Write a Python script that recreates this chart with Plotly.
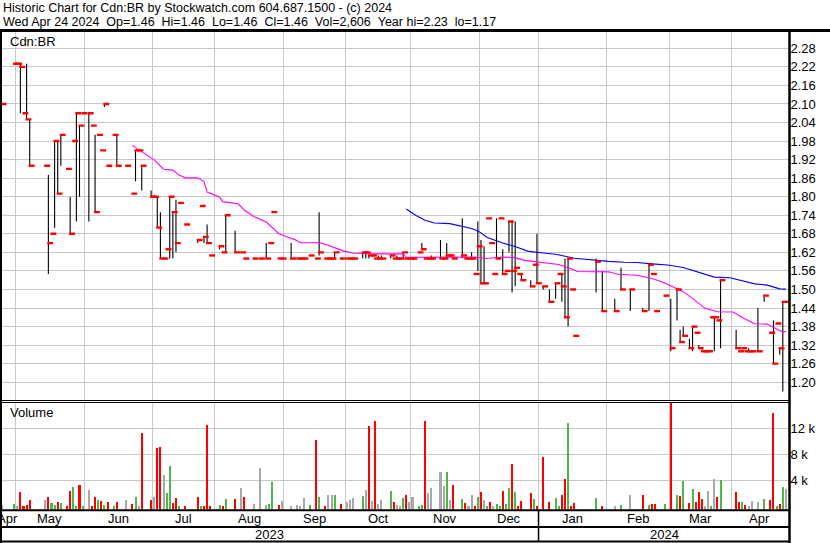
import plotly.graph_objects as go
import pandas as pd

W, H = 830, 543

# ---------------- trading calendar ----------------
HOLIDAYS = ["2023-05-22", "2023-07-03", "2023-08-07", "2023-09-04", "2023-10-09",
            "2023-12-25", "2023-12-26", "2024-01-01", "2024-02-19", "2024-03-29"]
trading_days = [d for d in pd.bdate_range("2023-04-24", "2024-04-24")
                if d.strftime("%Y-%m-%d") not in HOLIDAYS]
MONTH_ABBR = ["Jan", "Feb", "Mar", "Apr", "May", "Jun", "Jul", "Aug", "Sep", "Oct", "Nov", "Dec"]

# ---------------- daily data (session = trading-day number) ----------------
session = [0, 4, 5, 6, 7, 8, 9, 14, 15, 16,
           17, 18, 19, 21, 22, 23, 24, 25, 26, 28,
           29, 30, 31, 32, 33, 34, 36, 37, 40, 42,
           43, 44, 45, 48, 49, 50, 51, 52, 53, 54,
           55, 56, 57, 59, 63, 64, 65, 66, 67, 70,
           71, 72, 75, 77, 78, 81, 83, 85, 86, 87,
           89, 90, 93, 95, 96, 97, 99, 101, 102, 104,
           105, 106, 107, 109, 111, 112, 113, 116, 117, 118,
           119, 120, 121, 122, 125, 126, 127, 128, 129, 130,
           131, 132, 134, 135, 136, 137, 138, 141, 142, 143,
           144, 145, 148, 149, 150, 151, 152, 153, 154, 155,
           156, 157, 158, 159, 160, 161, 162, 163, 164, 165,
           166, 167, 170, 171, 172, 174, 176, 178, 179, 180,
           181, 182, 183, 184, 191, 193, 197, 199, 202, 206,
           208, 209, 210, 213, 215, 217, 218, 219, 221, 222,
           223, 224, 225, 226, 227, 228, 229, 230, 231, 236,
           237, 238, 239, 240, 241, 243, 245, 247, 248, 249,
           250, 251, 252]

high = [2.10, 2.23, 2.23, 2.23, 2.07, 2.23, 2.05, 1.90, 1.87, 1.68,
        1.98, 1.98, 2.00, 1.89, 1.80, 1.98, 2.07, 2.03, 2.07, 2.07,
        2.03, 2.00, 2.00, 1.95, 2.10, 1.90, 2.00, 2.00, 1.90, 1.81,
        1.95, 1.95, 1.90, 1.82, 1.80, 1.80, 1.75, 1.60, 1.63, 1.80,
        1.75, 1.79, 1.78, 1.71, 1.66, 1.77, 1.67, 1.71, 1.61, 1.64,
        1.62, 1.74, 1.69, 1.62, 1.60, 1.60, 1.60, 1.65, 1.65, 1.75,
        1.60, 1.60, 1.65, 1.60, 1.60, 1.60, 1.61, 1.60, 1.75, 1.60,
        1.60, 1.60, 1.62, 1.60, 1.60, 1.60, 1.60, 1.62, 1.62, 1.61,
        1.61, 1.60, 1.61, 1.61, 1.61, 1.60, 1.61, 1.60, 1.62, 1.60,
        1.60, 1.60, 1.62, 1.65, 1.60, 1.60, 1.61, 1.66, 1.60, 1.65,
        1.61, 1.60, 1.73, 1.60, 1.60, 1.62, 1.55, 1.72, 1.66, 1.64,
        1.73, 1.65, 1.55, 1.73, 1.73, 1.63, 1.56, 1.72, 1.72, 1.72,
        1.55, 1.55, 1.53, 1.58, 1.68, 1.51, 1.50, 1.52, 1.55, 1.55,
        1.60, 1.60, 1.50, 1.35, 1.60, 1.56, 1.47, 1.57, 1.50, 1.44,
        1.58, 1.55, 1.43, 1.48, 1.47, 1.50, 1.37, 1.38, 1.34, 1.38,
        1.36, 1.32, 1.30, 1.30, 1.30, 1.41, 1.41, 1.40, 1.53, 1.37,
        1.30, 1.31, 1.30, 1.31, 1.30, 1.44, 1.48, 1.36, 1.40, 1.39,
        1.31, 1.46, 1.46]

low = [2.10, 2.23, 2.23, 2.07, 2.07, 2.05, 1.90, 1.90, 1.55, 1.68,
       1.70, 1.81, 1.90, 1.89, 1.68, 1.98, 1.72, 1.80, 2.07, 1.72,
       2.03, 1.75, 2.00, 1.95, 2.09, 1.90, 2.00, 1.90, 1.90, 1.81,
       1.85, 1.95, 1.82, 1.80, 1.80, 1.70, 1.60, 1.60, 1.63, 1.60,
       1.60, 1.62, 1.78, 1.71, 1.65, 1.77, 1.65, 1.65, 1.61, 1.63,
       1.62, 1.62, 1.62, 1.62, 1.60, 1.60, 1.60, 1.60, 1.65, 1.75,
       1.60, 1.60, 1.60, 1.60, 1.60, 1.60, 1.61, 1.60, 1.61, 1.60,
       1.60, 1.60, 1.60, 1.60, 1.60, 1.60, 1.60, 1.60, 1.60, 1.60,
       1.61, 1.60, 1.60, 1.60, 1.60, 1.60, 1.60, 1.60, 1.60, 1.60,
       1.60, 1.60, 1.62, 1.63, 1.60, 1.60, 1.60, 1.60, 1.60, 1.60,
       1.61, 1.60, 1.60, 1.60, 1.60, 1.60, 1.55, 1.56, 1.52, 1.52,
       1.73, 1.65, 1.55, 1.60, 1.73, 1.55, 1.56, 1.62, 1.49, 1.51,
       1.55, 1.53, 1.51, 1.58, 1.52, 1.50, 1.46, 1.47, 1.55, 1.46,
       1.41, 1.38, 1.50, 1.35, 1.49, 1.43, 1.43, 1.50, 1.43, 1.43,
       1.43, 1.55, 1.43, 1.48, 1.30, 1.40, 1.33, 1.35, 1.31, 1.30,
       1.36, 1.31, 1.30, 1.30, 1.30, 1.41, 1.30, 1.40, 1.31, 1.31,
       1.30, 1.31, 1.30, 1.30, 1.30, 1.30, 1.46, 1.36, 1.26, 1.39,
       1.29, 1.17, 1.46]

close = [2.10, 2.23, 2.23, 2.22, 2.07, 2.05, 1.90, 1.90, 1.65, 1.68,
         1.98, 1.81, 2.00, 1.89, 1.68, 1.98, 2.07, 2.03, 2.07, 2.07,
         2.03, 1.75, 2.00, 1.95, 2.10, 1.90, 2.00, 1.90, 1.90, 1.81,
         1.95, 1.95, 1.90, 1.80, 1.80, 1.70, 1.60, 1.60, 1.63, 1.80,
         1.75, 1.65, 1.78, 1.71, 1.66, 1.77, 1.67, 1.65, 1.61, 1.64,
         1.62, 1.74, 1.62, 1.62, 1.60, 1.60, 1.60, 1.60, 1.65, 1.75,
         1.60, 1.60, 1.60, 1.60, 1.60, 1.60, 1.61, 1.60, 1.62, 1.60,
         1.60, 1.60, 1.62, 1.60, 1.60, 1.60, 1.60, 1.62, 1.62, 1.61,
         1.61, 1.60, 1.60, 1.60, 1.61, 1.60, 1.60, 1.60, 1.62, 1.60,
         1.60, 1.60, 1.62, 1.63, 1.60, 1.60, 1.60, 1.60, 1.60, 1.61,
         1.61, 1.60, 1.61, 1.60, 1.60, 1.60, 1.55, 1.64, 1.52, 1.52,
         1.73, 1.65, 1.55, 1.60, 1.73, 1.55, 1.56, 1.72, 1.56, 1.57,
         1.55, 1.53, 1.51, 1.58, 1.52, 1.51, 1.46, 1.52, 1.55, 1.51,
         1.41, 1.60, 1.50, 1.35, 1.59, 1.43, 1.43, 1.50, 1.50, 1.43,
         1.58, 1.55, 1.43, 1.48, 1.31, 1.50, 1.33, 1.35, 1.31, 1.38,
         1.36, 1.31, 1.30, 1.30, 1.30, 1.41, 1.41, 1.40, 1.53, 1.31,
         1.30, 1.31, 1.30, 1.30, 1.30, 1.30, 1.48, 1.36, 1.26, 1.39,
         1.31, 1.46, 1.46]

volume = [200, 350, 100, 2200, 100, 200, 970, 970, 1400, 500,
          200, 660, 500, 50, 2360, 2970, 100, 3280, 100, 2500,
          50, 1400, 970, 800, 200, 660, 50, 660, 970, 350,
          1400, 50, 11300, 970, 1400, 8970, 9100, 4800, 2050, 6200,
          500, 1250, 50, 50, 1400, 100, 100, 12500, 100, 200,
          100, 1100, 1100, 2800, 1400, 350, 5900, 200, 350, 3700,
          200, 800, 100, 200, 100, 1250, 200, 10200, 1400, 100,
          1700, 1700, 1700, 350, 660, 970, 1250, 1600, 2500, 12400,
          800, 13100, 350, 970, 2360, 660, 200, 50, 1250, 1800,
          660, 1400, 100, 200, 13100, 2050, 2800, 5300, 3100, 5300,
          970, 3300, 1100, 500, 100, 1800, 100, 1400, 2200, 970,
          100, 660, 100, 350, 100, 2360, 350, 2800, 6500, 2200,
          100, 800, 2050, 1100, 100, 7600, 660, 1250, 100, 1700,
          4200, 12800, 50, 500, 1250, 100, 100, 200, 1700, 1800,
          200, 350, 350, 350, 17000, 1800, 1600, 3900, 500, 2650,
          660, 2200, 1100, 50, 2360, 100, 4200, 1400, 4100, 2200,
          660, 660, 200, 100, 800, 660, 1100, 970, 14400, 100,
          350, 3000, 2606]

# volume bar colour as seen: u = up (green), d = down (red), n = unchanged (grey)
vol_dir = ["n", "u", "n", "d", "d", "d", "d", "n", "d", "u",
           "u", "d", "u", "d", "d", "u", "u", "d", "u", "n",
           "d", "d", "u", "d", "u", "d", "u", "d", "n", "d",
           "u", "n", "d", "d", "n", "d", "d", "n", "u", "u",
           "d", "d", "u", "d", "d", "u", "d", "d", "d", "u",
           "d", "u", "d", "n", "d", "n", "n", "n", "u", "u",
           "d", "n", "n", "n", "n", "n", "u", "d", "u", "d",
           "n", "n", "u", "d", "n", "n", "n", "u", "n", "d",
           "n", "d", "n", "n", "u", "d", "n", "n", "u", "d",
           "n", "n", "u", "u", "d", "n", "n", "n", "n", "u",
           "n", "d", "u", "d", "n", "n", "d", "u", "d", "n",
           "u", "d", "n", "u", "u", "d", "u", "u", "d", "u",
           "d", "d", "d", "u", "d", "d", "d", "u", "u", "d",
           "d", "u", "d", "d", "u", "d", "n", "u", "n", "d",
           "u", "d", "d", "u", "d", "u", "d", "u", "d", "u",
           "d", "d", "d", "n", "n", "u", "n", "d", "u", "d",
           "d", "u", "d", "n", "n", "n", "u", "d", "d", "u",
           "d", "u", "n"]

# moving averages (session, value)
ma_fast_session = [42, 46, 49, 52, 55, 57, 59, 63, 65, 66,
                   70, 71, 76, 78, 81, 85, 87, 89, 92, 94,
                   96, 102, 104, 107, 110, 113, 119, 129, 130, 152,
                   156, 161, 165, 168, 174, 179, 183, 185, 195, 198,
                   204, 208, 212, 215, 219, 222, 226, 230, 235, 239,
                   242, 246, 249, 251, 252]
ma_fast = [1.966, 1.940, 1.919, 1.889, 1.886, 1.870, 1.861, 1.861, 1.849, 1.815,
           1.799, 1.784, 1.777, 1.756, 1.736, 1.718, 1.699, 1.681, 1.669, 1.662,
           1.651, 1.651, 1.646, 1.635, 1.624, 1.618, 1.615, 1.615, 1.604, 1.605,
           1.600, 1.605, 1.603, 1.594, 1.588, 1.581, 1.567, 1.558, 1.557, 1.549,
           1.546, 1.538, 1.526, 1.511, 1.493, 1.471, 1.439, 1.428, 1.427, 1.404,
           1.389, 1.388, 1.373, 1.362, 1.365]

ma_slow_session = [130, 133, 136, 139, 144, 148, 151, 153, 154, 156,
                   161, 165, 169, 174, 178, 184, 191, 195, 200, 204,
                   210, 214, 219, 222, 225, 229, 234, 238, 242, 246,
                   250, 252]
ma_slow = [1.760, 1.740, 1.724, 1.715, 1.713, 1.704, 1.697, 1.689, 1.683, 1.668,
           1.650, 1.639, 1.624, 1.618, 1.614, 1.601, 1.594, 1.591, 1.588, 1.587,
           1.582, 1.579, 1.571, 1.561, 1.551, 1.540, 1.538, 1.529, 1.518, 1.514,
           1.502, 1.501]

PRICE_LABELS = ["1.20", "1.26", "1.32", "1.38", "1.44", "1.50", "1.56", "1.62", "1.68", "1.74",
                "1.80", "1.86", "1.92", "1.98", "2.04", "2.10", "2.16", "2.22", "2.28"]
VOL_TICKS = [4000, 8000, 12000]
VOL_LABELS = ["4 k", "8 k", "12 k"]

SYMBOL = "Cdn:BR"
LAST_OPEN = 1.46

# ---------------- style ----------------
FONT = "Liberation Sans, Arial, sans-serif"
RED, GREEN, GREY = "#ff0000", "#4cb848", "#a8a8a8"
GRID = "#c8c8c8"
DIR_COLOR = {"u": GREEN, "d": RED, "n": GREY}
X_RANGE = [-0.547, 253.15]
PRICE_RANGE = [1.1425, 2.3327]
VOL_BASE = -492
VOL_RANGE = [VOL_BASE, 16046]
TICK_SHIFT = 0.6
PLOT_RIGHT = 789.5 / W


def px(x):
    return x / W


def py(y):
    return 1 - y / H


dates = [trading_days[s].strftime("%Y-%m-%d") for s in session]

# month structure
months = []
for idx, d in enumerate(trading_days):
    key = (d.year, d.month)
    if not months or months[-1][0] != key:
        months.append([key, idx, idx])
    else:
        months[-1][2] = idx
boundaries = [m[1] - 0.5 for m in months[1:]]
jan_boundary = [m[1] - 0.5 for m in months if m[0] == (2024, 1)][0]

fig = go.Figure()

# high-low bars
hx, hy = [], []
for s, h, l in zip(session, high, low):
    if h > l:
        hx += [s, s, None]
        hy += [l, h, None]
fig.add_trace(go.Scatter(x=hx, y=hy, mode="lines", line=dict(color="black", width=1.1),
                         hoverinfo="skip", xaxis="x", yaxis="y"))

# moving averages
fig.add_trace(go.Scatter(x=ma_fast_session, y=ma_fast, mode="lines",
                         line=dict(color="#ff00ff", width=1.1), xaxis="x", yaxis="y"))
fig.add_trace(go.Scatter(x=ma_slow_session, y=ma_slow, mode="lines",
                         line=dict(color="#0000ff", width=1.1), xaxis="x", yaxis="y"))

# close ticks
fig.add_trace(go.Scatter(x=[s + TICK_SHIFT for s in session], y=close, mode="markers",
                         marker=dict(symbol="line-ew", size=4.2,
                                     line=dict(color=RED, width=2.4)),
                         text=dates, hovertemplate="%{text}<br>Close %{y:.2f}<extra></extra>",
                         xaxis="x", yaxis="y"))

# volume
fig.add_trace(go.Bar(x=session, y=[v - VOL_BASE for v in volume], base=VOL_BASE,
                     width=0.65, marker=dict(color=[DIR_COLOR[d] for d in vol_dir], line=dict(width=0)),
                     customdata=volume, text=dates, textposition="none",
                     hovertemplate="%{text}<br>Vol %{customdata}<extra></extra>",
                     xaxis="x2", yaxis="y2"))

axis_common = dict(showline=False, zeroline=False, showgrid=True, gridcolor=GRID, gridwidth=1)

fig.update_layout(
    width=W, height=H, autosize=False,
    margin=dict(l=0, r=0, t=0, b=0),
    paper_bgcolor="white", plot_bgcolor="white",
    showlegend=False, bargap=0,
    font=dict(family=FONT, size=13, color="black"),
    xaxis=dict(domain=[0, PLOT_RIGHT], range=X_RANGE, anchor="y",
               tickvals=boundaries, showticklabels=False, ticks="", **axis_common),
    xaxis2=dict(domain=[0, PLOT_RIGHT], range=X_RANGE, anchor="y2",
                tickvals=boundaries, showticklabels=False, ticks="", **axis_common),
    yaxis=dict(domain=[py(400), py(32)], range=PRICE_RANGE, anchor="x", side="right",
               tickvals=[float(t) for t in PRICE_LABELS], ticktext=PRICE_LABELS,
               ticks="", tickfont=dict(size=13, family=FONT, color="black"), **axis_common),
    yaxis2=dict(domain=[py(509.5), py(402)], range=VOL_RANGE, anchor="x2", side="right",
                tickvals=VOL_TICKS, ticktext=VOL_LABELS,
                ticks="", tickfont=dict(size=13, family=FONT, color="black"), **axis_common),
)

NB = "\u00a0\u00a0"
header1 = f"Historic Chart for {SYMBOL} by Stockwatch.com 604.687.1500 - (c) 2024"
header2 = (f"Wed Apr 24 2024{NB}Op={LAST_OPEN:.2f}{NB}Hi={high[-1]:.2f}{NB}Lo={low[-1]:.2f}"
           f"{NB}Cl={close[-1]:.2f}{NB}Vol={volume[-1]:,}{NB}Year hi={max(high):.2f}{NB}lo={min(low):.2f}")

annotations = [
    dict(text=header1, x=px(1), y=py(8), xref="paper", yref="paper", xanchor="left", yanchor="middle",
         showarrow=False, font=dict(size=12.5, family=FONT)),
    dict(text=header2, x=px(1), y=py(22), xref="paper", yref="paper", xanchor="left", yanchor="middle",
         showarrow=False, font=dict(size=12.5, family=FONT)),
    dict(text=SYMBOL, x=px(8), y=py(41.5), xref="paper", yref="paper", xanchor="left", yanchor="middle",
         showarrow=False, font=dict(size=13, family=FONT)),
    dict(text="Volume", x=px(8), y=py(413), xref="paper", yref="paper", xanchor="left", yanchor="middle",
         showarrow=False, font=dict(size=13, family=FONT)),
]
for key, first, last in months:
    annotations.append(dict(text=MONTH_ABBR[key[1] - 1], x=(first + last) / 2, y=py(518.5),
                            xref="x2", yref="paper", xanchor="center", yanchor="middle",
                            showarrow=False, font=dict(size=13, family=FONT)))
annotations.append(dict(text="2023", x=(X_RANGE[0] + jan_boundary) / 2, y=py(534.5), xref="x2", yref="paper",
                        xanchor="center", yanchor="middle", showarrow=False, font=dict(size=13, family=FONT)))
annotations.append(dict(text="2024", x=(jan_boundary + X_RANGE[1]) / 2, y=py(534.5), xref="x2", yref="paper",
                        xanchor="center", yanchor="middle", showarrow=False, font=dict(size=13, family=FONT)))
fig.update_layout(annotations=annotations)

shapes = [
    dict(type="line", xref="paper", yref="paper", x0=0, x1=1, y0=py(30.5), y1=py(30.5),
         line=dict(color="black", width=3)),
    dict(type="line", xref="paper", yref="paper", x0=px(1), x1=px(1), y0=py(30), y1=py(543),
         line=dict(color="black", width=2)),
    dict(type="line", xref="paper", yref="paper", x0=PLOT_RIGHT, x1=PLOT_RIGHT, y0=py(30), y1=py(543),
         line=dict(color="black", width=2.5)),
    dict(type="line", xref="paper", yref="paper", x0=0, x1=PLOT_RIGHT, y0=py(400.5), y1=py(400.5),
         line=dict(color="black", width=1)),
    dict(type="line", xref="paper", yref="paper", x0=0, x1=PLOT_RIGHT, y0=py(402.5), y1=py(402.5),
         line=dict(color="black", width=1)),
    dict(type="line", xref="paper", yref="paper", x0=0, x1=PLOT_RIGHT, y0=py(510.3), y1=py(510.3),
         line=dict(color="black", width=2)),
    dict(type="line", xref="paper", yref="paper", x0=0, x1=PLOT_RIGHT, y0=py(527), y1=py(527),
         line=dict(color="black", width=2)),
    dict(type="line", xref="paper", yref="paper", x0=0, x1=PLOT_RIGHT, y0=py(541.5), y1=py(541.5),
         line=dict(color="black", width=2)),
    dict(type="line", xref="x2", yref="paper", x0=jan_boundary, x1=jan_boundary, y0=py(510), y1=py(542),
         line=dict(color="black", width=1.5)),
]
fig.update_layout(shapes=shapes)

fig.write_html("out.html", config={"displayModeBar": False},
               post_script="document.body.style.margin='0';document.body.style.padding='0';")
